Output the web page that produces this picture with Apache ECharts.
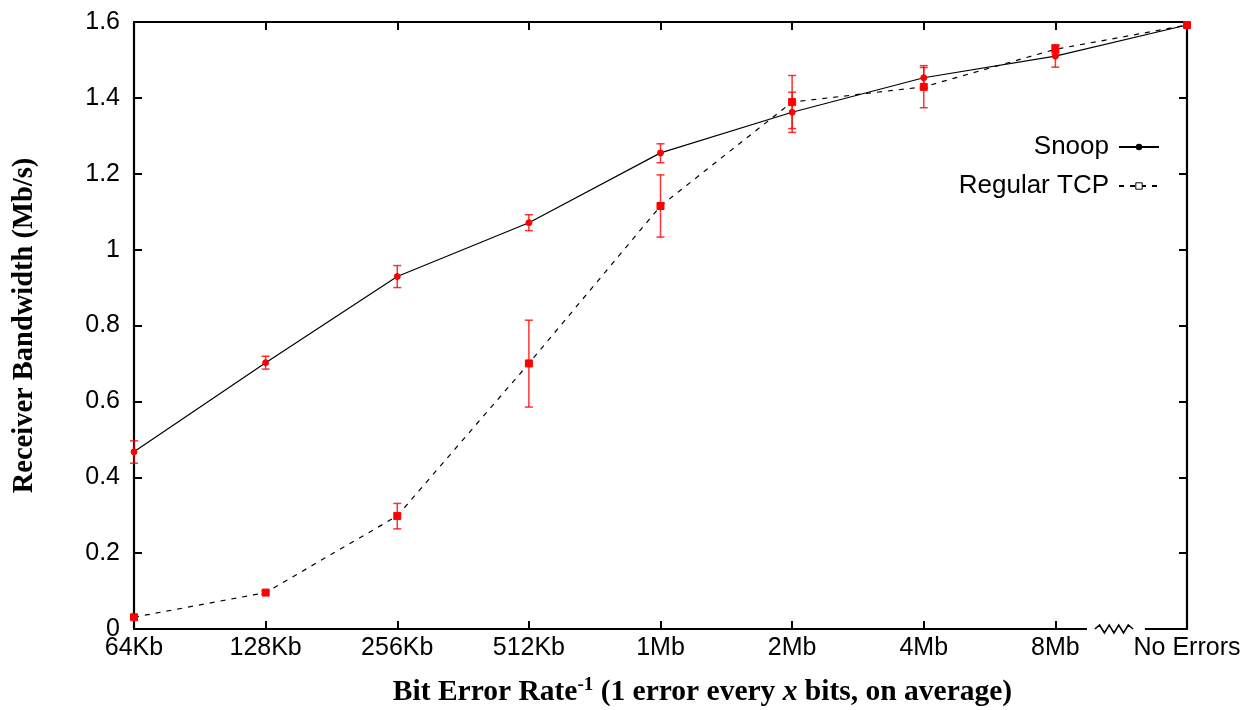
<!DOCTYPE html>
<html>
<head>
<meta charset="utf-8">
<script src="https://cdn.jsdelivr.net/npm/echarts@6/dist/echarts.min.js"></script>
<style>html,body{margin:0;padding:0;background:#fff;}#c{width:1253px;height:710px;}</style>
</head>
<body>
<div id="c"></div>
<script>
var categories = ['64Kb','128Kb','256Kb','512Kb','1Mb','2Mb','4Mb','8Mb','No Errors'];
var yTicks = [0, 0.2, 0.4, 0.6, 0.8, 1, 1.2, 1.4, 1.6];

var snoop     = [0.467, 0.702, 0.929, 1.071, 1.255, 1.362, 1.453, 1.510, 1.592];
var snoopLow  = [0.437, 0.685, 0.900, 1.050, 1.229, 1.319, 1.426, 1.481, 1.592];
var snoopHigh = [0.496, 0.719, 0.958, 1.092, 1.279, 1.415, 1.480, 1.539, 1.592];

var tcp     = [0.031, 0.096, 0.298, 0.700, 1.115, 1.389, 1.429, 1.528, 1.592];
var tcpLow  = [0.027, 0.092, 0.264, 0.585, 1.033, 1.309, 1.374, 1.516, 1.592];
var tcpHigh = [0.035, 0.100, 0.331, 0.814, 1.197, 1.459, 1.485, 1.540, 1.592];

var chart = echarts.init(document.getElementById('c'));

function errData(lo, hi) {
  return categories.map(function (c, i) { return [i, lo[i], hi[i]]; });
}
function renderErr(params, api) {
  var x = api.value(0);
  var lo = api.coord([x, api.value(1)]);
  var hi = api.coord([x, api.value(2)]);
  var w = 4;
  var st = { stroke: 'rgba(255,0,0,0.8)', lineWidth: 1.5, fill: null };
  return {
    type: 'group',
    children: [
      { type: 'line', shape: { x1: lo[0], y1: lo[1], x2: hi[0], y2: hi[1] }, style: st },
      { type: 'line', shape: { x1: lo[0] - w, y1: lo[1], x2: lo[0] + w, y2: lo[1] }, style: st },
      { type: 'line', shape: { x1: hi[0] - w, y1: hi[1], x2: hi[0] + w, y2: hi[1] }, style: st }
    ]
  };
}

var tickFont = { fontFamily: 'Liberation Sans', fontSize: 25, color: '#000' };
var axisLine = { show: true, onZero: false, lineStyle: { color: '#000', width: 2.2 } };
var axisTick = { show: true, inside: true, length: 8, lineStyle: { color: '#000', width: 2 } };

chart.setOption({
  animation: false,
  backgroundColor: '#fff',
  grid: { left: 134, right: 66, top: 22, bottom: 81 },
  legend: {
    orient: 'vertical',
    align: 'right',
    right: 88,
    top: 129,
    itemWidth: 40,
    itemHeight: 8,
    itemGap: 13,
    textStyle: { fontFamily: 'Liberation Sans', fontSize: 26, color: '#000', padding: [0, 5, 0, 0] },
    data: [
      { name: 'Snoop', itemStyle: { color: '#000', borderColor: '#000' } },
      { name: 'Regular TCP', itemStyle: { color: '#fff', borderColor: '#000', borderWidth: 1 } }
    ]
  },
  xAxis: [
    {
      type: 'category', data: categories, boundaryGap: false,
      axisLine: axisLine, axisTick: axisTick,
      axisLabel: Object.assign({ margin: 7, interval: 0 }, tickFont),
      splitLine: { show: false }
    },
    {
      type: 'category', data: categories, boundaryGap: false, position: 'top',
      axisLine: axisLine, axisTick: axisTick,
      axisLabel: { show: false },
      splitLine: { show: false }
    }
  ],
  yAxis: [
    {
      type: 'value', min: 0, max: 1.6, interval: 0.2,
      axisLine: axisLine, axisTick: axisTick,
      axisLabel: Object.assign({ margin: 14 }, tickFont),
      splitLine: { show: false },
      name: 'Receiver Bandwidth (Mb/s)',
      nameLocation: 'middle',
      nameGap: 95,
      nameTextStyle: { fontFamily: 'Liberation Serif', fontWeight: 'bold', fontSize: 28.5, color: '#000' }
    },
    {
      type: 'value', min: 0, max: 1.6, interval: 0.2, position: 'right',
      axisLine: axisLine, axisTick: axisTick,
      axisLabel: { show: false },
      splitLine: { show: false }
    }
  ],
  series: [
    {
      name: 'Snoop', type: 'line', data: snoop,
      lineStyle: { color: '#000', width: 1.2, type: 'solid' },
      itemStyle: { color: '#ff0000', borderColor: '#ff0000' },
      symbol: 'circle', symbolSize: 6, showSymbol: true, z: 3
    },
    {
      name: 'Regular TCP', type: 'line', data: tcp,
      lineStyle: { color: '#000', width: 1.2, type: [5, 6] },
      itemStyle: { color: '#ff0000', borderColor: '#ff0000' },
      symbol: 'rect', symbolSize: 7, showSymbol: true, z: 3
    },
    {
      name: 'snoopErr', type: 'custom', data: errData(snoopLow, snoopHigh),
      renderItem: renderErr, z: 4, silent: true,
      encode: { x: 0, y: [1, 2] }
    },
    {
      name: 'tcpErr', type: 'custom', data: errData(tcpLow, tcpHigh),
      renderItem: renderErr, z: 4, silent: true,
      encode: { x: 0, y: [1, 2] }
    }
  ]
});

// axis break decoration and x-axis title
var p8 = chart.convertToPixel({ xAxisIndex: 0 }, categories[7]);
var pN = chart.convertToPixel({ xAxisIndex: 0 }, categories[8]);
var y0 = chart.convertToPixel({ yAxisIndex: 0 }, 0);
var span = pN - p8;
var zx0 = p8 + span * 0.30, zx1 = p8 + span * 0.59;
var pts = [];
var n = 8;
for (var k = 0; k <= n; k++) {
  var xx = zx0 + (zx1 - zx0) * k / n;
  var yy = y0 + (k === 0 || k === n ? 0 : (k % 2 === 1 ? -4 : 4));
  pts.push([xx, yy]);
}
var gridL = chart.convertToPixel({ xAxisIndex: 0 }, categories[0]);
chart.setOption({
  graphic: [
    { type: 'rect', shape: { x: p8 + span * 0.24, y: y0 - 3, width: span * 0.44, height: 6 }, style: { fill: '#fff' }, z: 100 },
    { type: 'polyline', shape: { points: pts }, style: { stroke: '#000', lineWidth: 1.5, fill: null }, z: 101 },
    {
      type: 'text', z: 101,
      x: (gridL + pN) / 2 + 42, y: y0 + 63,
      style: {
        text: '{a|Bit Error Rate}{s|-1}{a| (1 error every }{i|x}{a| bits, on average)}',
        align: 'center', verticalAlign: 'middle',
        rich: {
          a: { fontFamily: 'Liberation Serif', fontWeight: 'bold', fontSize: 29.5, fill: '#000' },
          i: { fontFamily: 'Liberation Serif', fontWeight: 'bold', fontStyle: 'italic', fontSize: 29.5, fill: '#000' },
          s: { fontFamily: 'Liberation Serif', fontWeight: 'bold', fontSize: 19, fill: '#000', verticalAlign: 'top', padding: [0, 0, 14, 0] }
        }
      }
    }
  ]
});
</script>
</body>
</html>
